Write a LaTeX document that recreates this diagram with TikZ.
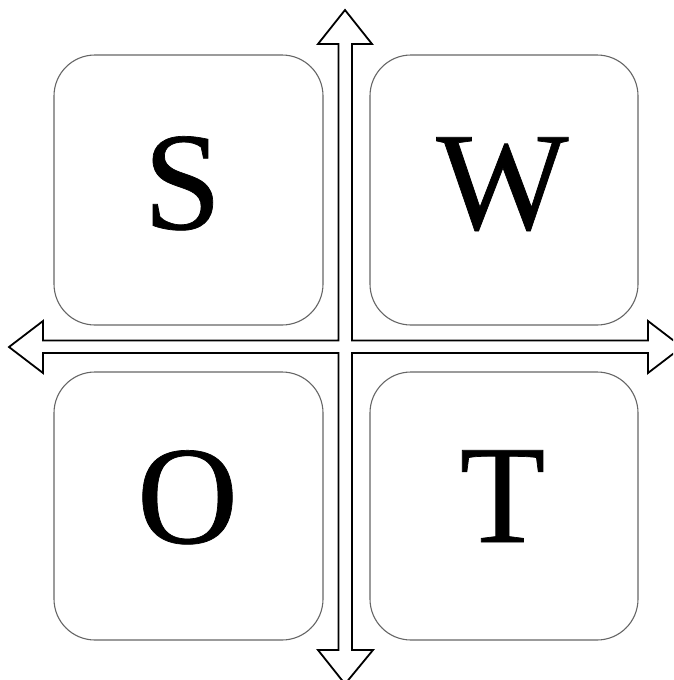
\documentclass[tikz,border=0pt]{standalone}
\usepackage{fontspec}
\setmainfont{Liberation Serif}
\newfontfamily\quadfont[FakeBold=0.5]{Liberation Serif}
\begin{document}
\begin{tikzpicture}[x=1pt,y=-1pt,
  quad/.style={draw=black!60, line width=1.1pt, rounded corners=41pt, inner sep=0pt},
  letter/.style={inner sep=0pt, anchor=base, font=\quadfont\fontsize{140}{140}\selectfont},
  crossarrow/.style={draw=black, line width=1.8pt, fill=white, line join=miter}]
\useasboundingbox (0,0) rectangle (673,680);
\clip (0,0) rectangle (673,680);
% boxes
\node[quad, minimum width=269pt, minimum height=270pt] (bS) at (188.5,190) {};
\node[quad, minimum width=268pt, minimum height=270pt] (bW) at (504,190) {};
\node[quad, minimum width=269pt, minimum height=268pt] (bO) at (188.5,506) {};
\node[quad, minimum width=268pt, minimum height=268pt] (bT) at (504,506) {};
% letters
\node[letter] (S) at (182.5,229) {S};
\node[letter] (W) at (502.5,229) {W};
\node[letter] (O) at (187.5,543) {O};
\node[letter] (T) at (502.5,542) {T};
% cross arrow
\draw[crossarrow] (345,10) -- (372,44) -- (352,44) -- (352,340.5) -- (648,340.5)
  -- (648,321) -- (682,347) -- (648,373) -- (648,353) -- (352,353) -- (352,650)
  -- (373,650) -- (345,684) -- (318,650) -- (338.5,650) -- (338.5,353) -- (43,353)
  -- (43,373) -- (9,347) -- (43,321) -- (43,340.5) -- (338.5,340.5) -- (338.5,44)
  -- (318,44) -- cycle;
\end{tikzpicture}
\end{document}
